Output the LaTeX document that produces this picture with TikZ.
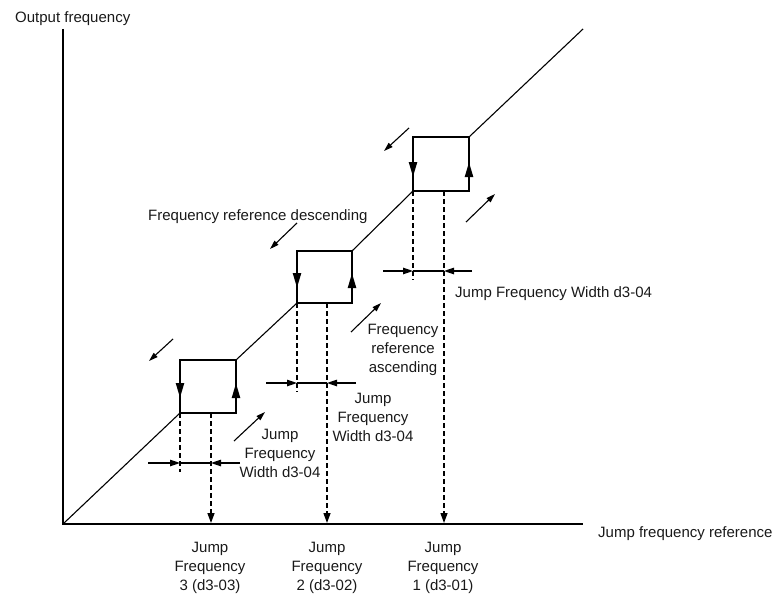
\documentclass[tikz,border=0pt]{standalone}
\usepackage{fontspec}
\setmainfont{Liberation Sans}
\usetikzlibrary{arrows.meta}
\begin{document}
\begin{tikzpicture}[x=1pt,y=-1pt,
  axisline/.style={line width=1.5pt},
  diag/.style={line width=1.1pt},
  jumpbox/.style={line width=2.2pt, line join=miter},
  boxarrow/.style={line width=2.2pt,-{Triangle[length=15pt,width=8pt]}},
  dashline/.style={line width=1.3pt, dash pattern=on 5pt off 3pt},
  hintarrow/.style={line width=1.1pt,-{Triangle[length=9pt,width=5.5pt]}},
  widtharrow/.style={line width=1.2pt,-{Triangle[length=10pt,width=6.5pt]}},
  downarrow/.style={dashline,-{Triangle[length=10pt,width=7pt]}},
  lbl/.style={font=\fontsize{15}{19}\selectfont, text=black!90, inner sep=0pt, align=center},
]
\useasboundingbox (0,0) rectangle (775,596);

% axes
\coordinate (O) at (63,524);
\coordinate (ytop) at (63,29);
\coordinate (xend) at (583,524);
\coordinate (dend) at (583,29);
\draw[axisline] (ytop) -- (O) -- (xend);

% boxes
\coordinate (BL3) at (180,413); \coordinate (TL3) at (180,360);
\coordinate (TR3) at (236,360); \coordinate (BR3) at (236,413);
\coordinate (BL2) at (297,303); \coordinate (TL2) at (297,251);
\coordinate (TR2) at (352,251); \coordinate (BR2) at (352,303);
\coordinate (BL1) at (413,191); \coordinate (TL1) at (413,137);
\coordinate (TR1) at (469,137); \coordinate (BR1) at (469,191);

% diagonal
\draw[diag] (O) -- (BL3);
\draw[diag] (TR3) -- (BL2);
\draw[diag] (TR2) -- (BL1);
\draw[diag] (TR1) -- (dend);

\draw[jumpbox] (BL3) -- (TL3) -- (TR3) -- (BR3) -- cycle;
\draw[jumpbox] (BL2) -- (TL2) -- (TR2) -- (BR2) -- cycle;
\draw[jumpbox] (BL1) -- (TL1) -- (TR1) -- (BR1) -- cycle;

\coordinate (a3l) at (180,398); \coordinate (a3r) at (236,383);
\coordinate (a2l) at (297,288); \coordinate (a2r) at (352,273);
\coordinate (a1l) at (413,177); \coordinate (a1r) at (469,162);
\draw[boxarrow] (TL3) -- (a3l);
\draw[boxarrow] (BR3) -- (a3r);
\draw[boxarrow] (TL2) -- (a2l);
\draw[boxarrow] (BR2) -- (a2r);
\draw[boxarrow] (TL1) -- (a1l);
\draw[boxarrow] (BR1) -- (a1r);

% dashed lines
\coordinate (d3e) at (180,472);
\coordinate (j3t) at (211,413); \coordinate (j3b) at (211,523);
\coordinate (d2e) at (297,392);
\coordinate (j2t) at (327,303); \coordinate (j2b) at (327,523);
\coordinate (d1e) at (413,280);
\coordinate (j1t) at (444,191); \coordinate (j1b) at (444,523);
\draw[dashline] (BL3) -- (d3e);
\draw[dashline] (BL2) -- (d2e);
\draw[dashline] (BL1) -- (d1e);
\draw[downarrow] (j3t) -- (j3b);
\draw[downarrow] (j2t) -- (j2b);
\draw[downarrow] (j1t) -- (j1b);

% width indicators
\coordinate (w3a) at (148,463); \coordinate (w3l) at (180,463);
\coordinate (w3r) at (211,463); \coordinate (w3b) at (240,463);
\coordinate (w2a) at (266,383); \coordinate (w2l) at (297,383);
\coordinate (w2r) at (327,383); \coordinate (w2b) at (356,383);
\coordinate (w1a) at (383,271); \coordinate (w1l) at (413,271);
\coordinate (w1r) at (444,271); \coordinate (w1b) at (472,271);
\foreach \i in {1,2,3}{
  \draw[widtharrow] (w\i a) -- (w\i l);
  \draw[widtharrow] (w\i b) -- (w\i r);
  \draw[line width=1.2pt] (w\i l) -- (w\i r);
}

% direction hints
\coordinate (h3ds) at (173,339); \coordinate (h3de) at (149,361);
\coordinate (h3as) at (234,441); \coordinate (h3ae) at (265,412);
\coordinate (h2ds) at (297,223); \coordinate (h2de) at (270,249);
\coordinate (h2as) at (351,332); \coordinate (h2ae) at (381,303);
\coordinate (h1ds) at (409,128); \coordinate (h1de) at (384,151);
\coordinate (h1as) at (466,222); \coordinate (h1ae) at (495,194);
\foreach \i in {1,2,3}{
  \draw[hintarrow] (h\i ds) -- (h\i de);
  \draw[hintarrow] (h\i as) -- (h\i ae);
}

% labels
\node[lbl, anchor=base west] (ylab) at (15,23) {Output frequency};
\node[lbl, anchor=base west] (xlab) at (598,537) {Jump frequency reference};
\node[lbl, anchor=base west] (desc) at (148,220) {Frequency reference descending};
\node[lbl, anchor=north] (asc) at (403,324) {Frequency\\reference\\ascending};
\node[lbl, anchor=base west] (w1lab) at (455,297) {Jump Frequency Width d3-04};
\node[lbl, anchor=north] (w2lab) at (373,393) {Jump\\Frequency\\Width d3-04};
\node[lbl, anchor=north] (w3lab) at (280,429) {Jump\\Frequency\\Width d3-04};
\node[lbl, anchor=north] (f3lab) at (210,542) {Jump\\Frequency\\3 (d3-03)};
\node[lbl, anchor=north] (f2lab) at (327,542) {Jump\\Frequency\\2 (d3-02)};
\node[lbl, anchor=north] (f1lab) at (443,542) {Jump\\Frequency\\1 (d3-01)};
\end{tikzpicture}
\end{document}
